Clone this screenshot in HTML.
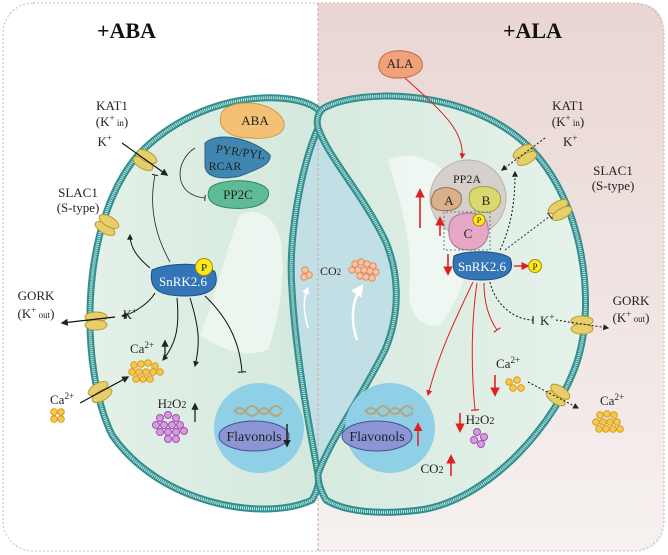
<!DOCTYPE html>
<html><head><meta charset="utf-8"><style>
html,body{margin:0;padding:0;background:#fff}
svg{display:block}
text{font-family:"Liberation Serif",serif;fill:#222}
</style></head><body>
<svg width="668" height="555" viewBox="0 0 668 555" xmlns="http://www.w3.org/2000/svg">
<defs>
<linearGradient id="pink" x1="0" y1="0" x2="0" y2="1"><stop offset="0" stop-color="#e9d6d3"/><stop offset="1" stop-color="#f6f1f0"/></linearGradient>
<linearGradient id="cellL" x1="0" y1="0" x2="1" y2="0"><stop offset="0" stop-color="#e4f1e8"/><stop offset="1" stop-color="#d3e8dc"/></linearGradient>
<linearGradient id="cellR" x1="0" y1="0" x2="1" y2="0"><stop offset="0" stop-color="#d7eadf"/><stop offset="1" stop-color="#e6f2ea"/></linearGradient>
<marker id="ab" viewBox="0 0 10 10" refX="8" refY="5" markerWidth="6" markerHeight="6" orient="auto"><path d="M0,0L10,5L0,10z" fill="#222"/></marker>
<marker id="ar" viewBox="0 0 10 10" refX="8" refY="5" markerWidth="6" markerHeight="6" orient="auto"><path d="M0,0L10,5L0,10z" fill="#e02020"/></marker>
<marker id="tb" viewBox="0 0 10 10" refX="5" refY="5" markerWidth="8" markerHeight="8" orient="auto"><path d="M5,0L5,10" stroke="#222" stroke-width="1.5"/></marker>
<marker id="tr" viewBox="0 0 10 10" refX="5" refY="5" markerWidth="8" markerHeight="8" orient="auto"><path d="M5,0L5,10" stroke="#e02020" stroke-width="1.5"/></marker>
<marker id="aw" viewBox="0 0 10 10" refX="8" refY="5" markerWidth="5" markerHeight="5" orient="auto"><path d="M0,0L10,5L0,10z" fill="#fff"/></marker>
<g id="ch"><ellipse cx="-4" cy="0" rx="5" ry="11" fill="#e6cf6a" stroke="#b89a2c"/><ellipse cx="4" cy="0" rx="5" ry="11" fill="#e6cf6a" stroke="#b89a2c"/></g>
<g id="dot"><circle r="3.3" fill="#f6c84a" stroke="#d79a20" stroke-width="1"/></g>
<g id="od"><circle r="3.2" fill="#f8c3a5" stroke="#e08a5a" stroke-width="1"/></g>
<g id="pd"><circle r="3.5" fill="#d89ae0" stroke="#a050b0" stroke-width="1"/></g>
</defs>
<path d="M318,3 H634 Q664,3 664,33 V521 Q664,551 634,551 H318 Z" fill="url(#pink)"/>
<rect x="3" y="3" width="661" height="548" rx="30" fill="none" stroke="#c9b7b5" stroke-dasharray="2,2"/>
<text x="97" y="38" font-size="22" font-weight="bold" style="fill:#111">+ABA</text>
<text x="503" y="38" font-size="22" font-weight="bold" style="fill:#111">+ALA</text>
<path d="M318,128 C300,170 288,240 292,290 C296,360 310,430 318,474 C330,440 360,400 385,350 C402,310 398,270 385,240 C360,190 330,160 318,128 Z" fill="#c3dfe6"/>
<line x1="318" y1="3" x2="318" y2="551" stroke="#c9a8a4" stroke-dasharray="3,2"/>
<path d="M316,108 C290,90 200,90 138,155 C78,225 80,370 112,435 C160,505 265,522 312,500 C318,490 320,480 318,474 C310,430 296,360 292,290 C288,240 300,170 318,128 C322,120 322,112 316,108 Z" fill="url(#cellL)" stroke="#2f9090" stroke-width="7"/>
<path d="M316,108 C290,90 200,90 138,155 C78,225 80,370 112,435 C160,505 265,522 312,500 C318,490 320,480 318,474 C310,430 296,360 292,290 C288,240 300,170 318,128 C322,120 322,112 316,108 Z" fill="none" stroke="#cfe8e2" stroke-width="3" stroke-dasharray="1,1"/>
<path d="M324,108 C360,88 470,88 530,148 C582,200 597,300 577,362 C557,422 490,500 420,510 C380,515 345,512 326,500 C320,490 318,482 318,474 C330,440 360,400 385,350 C402,310 398,270 385,240 C360,190 330,160 318,128 C316,120 318,112 324,108 Z" fill="url(#cellR)" stroke="#2f9090" stroke-width="7"/>
<path d="M324,108 C360,88 470,88 530,148 C582,200 597,300 577,362 C557,422 490,500 420,510 C380,515 345,512 326,500 C320,490 318,482 318,474 C330,440 360,400 385,350 C402,310 398,270 385,240 C360,190 330,160 318,128 C316,120 318,112 324,108 Z" fill="none" stroke="#cfe8e2" stroke-width="3" stroke-dasharray="1,1"/>
<path d="M240,215 C260,205 280,220 282,250 C285,290 275,330 268,350 C240,360 215,345 200,335 C215,300 225,250 240,215 Z" fill="#eef6f1" opacity="0.9"/>
<path d="M388,160 C420,145 455,170 470,210 C475,260 460,300 440,325 C420,330 405,310 410,280 C412,240 400,200 388,160 Z" fill="#f1f7f3" opacity="0.9"/>
<circle cx="259" cy="428" r="45" fill="#8fd0e6"/>
<circle cx="390" cy="428" r="45" fill="#8fd0e6"/>
<path d="M234,412 q6,-8 12,0 t12,0 t12,0 t12,0 M234,410 q6,8 12,0 t12,0 t12,0 t12,0" fill="none" stroke="#b7a57d" stroke-width="2"/>
<path d="M365,412 q6,-8 12,0 t12,0 t12,0 t12,0 M365,410 q6,8 12,0 t12,0 t12,0 t12,0" fill="none" stroke="#b7a57d" stroke-width="2"/>
<ellipse cx="254" cy="436" rx="35" ry="15" fill="#8c96d4" stroke="#4a5090"/>
<ellipse cx="377" cy="436" rx="35" ry="15" fill="#8c96d4" stroke="#4a5090"/>
<text x="254" y="441" font-size="14" text-anchor="middle">Flavonols</text>
<text x="377" y="441" font-size="14" text-anchor="middle">Flavonols</text>
<line x1="287" y1="424" x2="287" y2="446" stroke="#111" stroke-width="1.3" marker-end="url(#ab)"/>
<line x1="418" y1="446" x2="418" y2="424" stroke="#e02020" stroke-width="1.5" marker-end="url(#ar)"/>
<use href="#ch" transform="translate(145,160) rotate(-60)"/>
<use href="#ch" transform="translate(107,225) rotate(-60)"/>
<use href="#ch" transform="translate(96,321) rotate(90)"/>
<use href="#ch" transform="translate(100,392) rotate(60)"/>
<use href="#ch" transform="translate(525,155) rotate(60)"/>
<use href="#ch" transform="translate(560,210) rotate(60)"/>
<use href="#ch" transform="translate(582,325) rotate(90)"/>
<use href="#ch" transform="translate(558,395) rotate(-55)"/>
<text x="112" y="110" font-size="13" text-anchor="middle">KAT1</text>
<text x="112" y="126" font-size="13" text-anchor="middle">(K<tspan font-size="9" dy="-5">+</tspan><tspan font-size="9" dy="5"> in</tspan>)</text>
<text x="112" y="146" font-size="13" text-anchor="end">K<tspan font-size="9" dy="-5">+</tspan></text>
<line x1="122" y1="143" x2="167" y2="175" stroke="#111" stroke-width="1.2" marker-end="url(#ab)"/>
<text x="78" y="197" font-size="13" text-anchor="middle">SLAC1</text>
<text x="78" y="212" font-size="13" text-anchor="middle">(S-type)</text>
<text x="36" y="300" font-size="13" text-anchor="middle">GORK</text>
<text x="36" y="318" font-size="13" text-anchor="middle">(K<tspan font-size="9" dy="-5">+</tspan><tspan font-size="9" dy="5"> out</tspan>)</text>
<text x="130" y="319" font-size="13" text-anchor="middle">K<tspan font-size="9" dy="-5">+</tspan></text>
<line x1="115" y1="317" x2="62" y2="323" stroke="#111" stroke-width="1.2" marker-end="url(#ab)"/>
<text x="142" y="353" font-size="13" text-anchor="middle">Ca<tspan font-size="9" dy="-5">2+</tspan></text>
<line x1="165" y1="357" x2="165" y2="341" stroke="#111" stroke-width="1.2" marker-end="url(#ab)"/>
<text x="62" y="404" font-size="13" text-anchor="middle">Ca<tspan font-size="9" dy="-5">2+</tspan></text>
<line x1="80" y1="403" x2="128" y2="377" stroke="#111" stroke-width="1.2" marker-end="url(#ab)"/>
<g><use href="#dot" x="54" y="412"/><use href="#dot" x="61" y="412"/><use href="#dot" x="54" y="419"/><use href="#dot" x="61" y="419"/></g>
<g><use href="#dot" x="134" y="365"/><use href="#dot" x="141" y="364"/><use href="#dot" x="148" y="363"/><use href="#dot" x="155" y="366"/><use href="#dot" x="132" y="372"/><use href="#dot" x="139" y="372"/><use href="#dot" x="146" y="372"/><use href="#dot" x="153" y="372"/><use href="#dot" x="160" y="372"/><use href="#dot" x="136" y="379"/><use href="#dot" x="143" y="379"/><use href="#dot" x="150" y="379"/></g>
<text x="172" y="408" font-size="13" text-anchor="middle">H<tspan font-size="10">2</tspan>O<tspan font-size="10">2</tspan></text>
<line x1="195" y1="422" x2="195" y2="404" stroke="#111" stroke-width="1.2" marker-end="url(#ab)"/>
<g><use href="#pd" x="160" y="418"/><use href="#pd" x="168" y="415"/><use href="#pd" x="176" y="418"/><use href="#pd" x="156" y="425"/><use href="#pd" x="164" y="425"/><use href="#pd" x="172" y="425"/><use href="#pd" x="180" y="425"/><use href="#pd" x="160" y="432"/><use href="#pd" x="168" y="432"/><use href="#pd" x="176" y="432"/><use href="#pd" x="184" y="431"/><use href="#pd" x="168" y="439"/><use href="#pd" x="176" y="439"/></g>
<path d="M222,112 C230,100 268,98 282,118 C290,132 275,140 250,138 C232,138 215,130 222,112 Z" fill="#f3c074" stroke="#d09a40"/>
<text x="255" y="125" font-size="13" text-anchor="middle">ABA</text>
<path d="M205,143 C220,130 255,140 270,155 C272,165 255,170 240,176 C222,180 205,178 205,165 Z" fill="#3f87b0" stroke="#2a6080"/>
<text x="240" y="156" font-size="12" text-anchor="middle" transform="rotate(8 240 156)">PYR/PYL</text>
<text x="225" y="170" font-size="12" text-anchor="middle">RCAR</text>
<path d="M210,188 C220,178 260,178 268,190 C272,205 250,210 230,208 C210,206 205,198 210,188 Z" fill="#5fba96" stroke="#2e8a66"/>
<text x="238" y="199" font-size="13" text-anchor="middle">PP2C</text>
<path d="M195,148 C175,160 172,195 205,198" fill="none" stroke="#222" stroke-width="0.8" marker-end="url(#tb)"/>
<path d="M152,270 C170,262 205,262 215,272 C220,288 210,296 185,296 C160,296 148,290 152,270 Z" fill="#3475b8" stroke="#1f4f80"/>
<text x="183" y="286" font-size="13" text-anchor="middle" style="fill:#fff">SnRK2.6</text>
<circle cx="204" cy="267" r="8.5" fill="#ffe818" stroke="#a0900a"/>
<text x="204" y="271" font-size="11" text-anchor="middle">P</text>
<path d="M170,262 C152,230 150,200 155,175" fill="none" stroke="#222" stroke-width="0.8" marker-end="url(#tb)"/>
<path d="M150,268 C138,258 130,248 130,235" fill="none" stroke="#111" stroke-width="1" marker-end="url(#ab)"/>
<path d="M155,293 C148,305 130,315 122,316" fill="none" stroke="#111" stroke-width="1" marker-end="url(#ab)"/>
<path d="M177,298 C180,330 175,345 163,360" fill="none" stroke="#111" stroke-width="1" marker-end="url(#ab)"/>
<path d="M190,298 C200,330 200,345 195,366" fill="none" stroke="#111" stroke-width="1" marker-end="url(#ab)"/>
<path d="M205,296 C230,320 240,345 242,372" fill="none" stroke="#111" stroke-width="1" marker-end="url(#tb)"/>
<text x="320" y="275" font-size="12" text-anchor="start">CO<tspan font-size="9">2</tspan></text>
<g><use href="#od" x="355" y="264"/><use href="#od" x="361" y="262"/><use href="#od" x="367" y="264"/><use href="#od" x="373" y="266"/><use href="#od" x="352" y="270"/><use href="#od" x="358" y="270"/><use href="#od" x="364" y="270"/><use href="#od" x="370" y="271"/><use href="#od" x="376" y="272"/><use href="#od" x="360" y="276"/><use href="#od" x="366" y="277"/><use href="#od" x="372" y="278"/></g>
<g><use href="#od" x="305" y="270"/><use href="#od" x="309" y="275"/><use href="#od" x="304" y="277"/></g>
<path d="M308,328 C303,310 303,298 308,288" fill="none" stroke="#fff" stroke-width="1.5" marker-end="url(#aw)"/>
<path d="M357,340 C350,320 352,300 362,286" fill="none" stroke="#fff" stroke-width="2.5" marker-end="url(#aw)"/>
<path d="M380,60 C385,48 410,48 420,58 C428,70 415,78 398,78 C382,78 376,70 380,60 Z" fill="#f1a27a" stroke="#c06a40"/>
<text x="400" y="68" font-size="13" text-anchor="middle">ALA</text>
<path d="M405,78 C440,110 465,130 462,158" fill="none" stroke="#e02020" stroke-width="1" marker-end="url(#ar)"/>
<circle cx="468" cy="198" r="38" fill="#d6d0cc" stroke="#b9b0aa"/>
<text x="467" y="183" font-size="12" text-anchor="middle">PP2A</text>
<path d="M433,195 C436,185 455,185 461,195 C464,210 450,212 438,210 C430,208 430,200 433,195 Z" fill="#d9b08a" stroke="#9a7050"/>
<text x="449" y="205" font-size="13" text-anchor="middle">A</text>
<path d="M470,193 C472,185 495,183 500,195 C503,208 492,214 480,212 C470,210 468,200 470,193 Z" fill="#dcd870" stroke="#a0a040"/>
<text x="486" y="205" font-size="13" text-anchor="middle">B</text>
<path d="M450,222 C455,210 482,210 487,222 C492,240 482,250 468,250 C452,250 446,238 450,222 Z" fill="#e6a8c4" stroke="#b07090"/>
<text x="468" y="238" font-size="13" text-anchor="middle">C</text>
<circle cx="479" cy="220" r="6" fill="#ffe818" stroke="#a0900a"/>
<text x="479" y="223" font-size="8" text-anchor="middle">P</text>
<path d="M444,212 V250 H490 V212 Z" fill="none" stroke="#3a6a80" stroke-width="0.8" stroke-dasharray="2,2"/>
<line x1="420" y1="228" x2="420" y2="190" stroke="#e02020" stroke-width="1.6" marker-end="url(#ar)"/>
<line x1="440" y1="236" x2="440" y2="218" stroke="#e02020" stroke-width="1.6" marker-end="url(#ar)"/>
<line x1="448" y1="254" x2="448" y2="274" stroke="#e02020" stroke-width="1.6" marker-end="url(#ar)"/>
<path d="M454,256 C465,250 500,250 510,258 C516,272 505,280 482,280 C458,280 450,275 454,256 Z" fill="#3475b8" stroke="#1f4f80"/>
<text x="482" y="271" font-size="13" text-anchor="middle" style="fill:#fff">SnRK2.6</text>
<line x1="514" y1="266" x2="528" y2="266" stroke="#e02020" stroke-width="1.4" marker-end="url(#ar)"/>
<circle cx="535" cy="266" r="6.5" fill="#ffe818" stroke="#a0900a"/>
<text x="535" y="270" font-size="9" text-anchor="middle">P</text>
<text x="568" y="110" font-size="13" text-anchor="middle">KAT1</text>
<text x="568" y="126" font-size="13" text-anchor="middle">(K<tspan font-size="9" dy="-5">+</tspan><tspan font-size="9" dy="5"> in</tspan>)</text>
<text x="563" y="146" font-size="13" text-anchor="start">K<tspan font-size="9" dy="-5">+</tspan></text>
<line x1="545" y1="138" x2="502" y2="170" stroke="#111" stroke-dasharray="2,2" marker-end="url(#ab)"/>
<path d="M500,250 C512,225 515,200 515,172" fill="none" stroke="#111" stroke-dasharray="2,2" marker-end="url(#ab)"/>
<text x="613" y="175" font-size="13" text-anchor="middle">SLAC1</text>
<text x="613" y="190" font-size="13" text-anchor="middle">(S-type)</text>
<line x1="505" y1="250" x2="550" y2="216" stroke="#333" stroke-dasharray="2,2" marker-end="url(#tb)"/>
<text x="631" y="305" font-size="13" text-anchor="middle">GORK</text>
<text x="631" y="322" font-size="13" text-anchor="middle">(K<tspan font-size="9" dy="-5">+</tspan><tspan font-size="9" dy="5"> out</tspan>)</text>
<path d="M490,282 C495,305 515,320 533,320" fill="none" stroke="#111" stroke-dasharray="2,2" marker-end="url(#tb)"/>
<text x="540" y="325" font-size="13">K<tspan font-size="9" dy="-5">+</tspan></text>
<line x1="556" y1="320" x2="608" y2="328" stroke="#111" stroke-dasharray="2,2" marker-end="url(#ab)"/>
<path d="M473,282 C455,320 440,350 428,395" fill="none" stroke="#e02020" stroke-width="1" marker-end="url(#ar)"/>
<path d="M477,283 C470,330 472,380 475,410" fill="none" stroke="#e02020" stroke-width="1" marker-end="url(#tr)"/>
<path d="M484,283 C484,305 490,320 497,330" fill="none" stroke="#e02020" stroke-width="1" marker-end="url(#tr)"/>
<text x="508" y="368" font-size="13" text-anchor="middle">Ca<tspan font-size="9" dy="-5">2+</tspan></text>
<line x1="495" y1="375" x2="495" y2="395" stroke="#e02020" stroke-width="1.6" marker-end="url(#ar)"/>
<g><use href="#dot" x="509" y="382"/><use href="#dot" x="517" y="380"/><use href="#dot" x="513" y="388"/><use href="#dot" x="521" y="388"/></g>
<line x1="528" y1="382" x2="578" y2="408" stroke="#111" stroke-dasharray="2,2" marker-end="url(#ab)"/>
<text x="612" y="405" font-size="13" text-anchor="middle">Ca<tspan font-size="9" dy="-5">2+</tspan></text>
<g><use href="#dot" x="600" y="415"/><use href="#dot" x="607" y="414"/><use href="#dot" x="614" y="415"/><use href="#dot" x="596" y="422"/><use href="#dot" x="603" y="422"/><use href="#dot" x="610" y="422"/><use href="#dot" x="617" y="422"/><use href="#dot" x="599" y="429"/><use href="#dot" x="606" y="429"/><use href="#dot" x="613" y="429"/><use href="#dot" x="620" y="429"/></g>
<line x1="460" y1="413" x2="460" y2="431" stroke="#e02020" stroke-width="1.6" marker-end="url(#ar)"/>
<text x="480" y="424" font-size="13" text-anchor="middle">H<tspan font-size="10">2</tspan>O<tspan font-size="10">2</tspan></text>
<g><use href="#pd" x="477" y="432"/><use href="#pd" x="484" y="437"/><use href="#pd" x="474" y="440"/><use href="#pd" x="481" y="444"/></g>
<text x="432" y="473" font-size="13" text-anchor="middle">CO<tspan font-size="10">2</tspan></text>
<line x1="451" y1="476" x2="451" y2="456" stroke="#e02020" stroke-width="1.6" marker-end="url(#ar)"/>
</svg>
</body></html>
